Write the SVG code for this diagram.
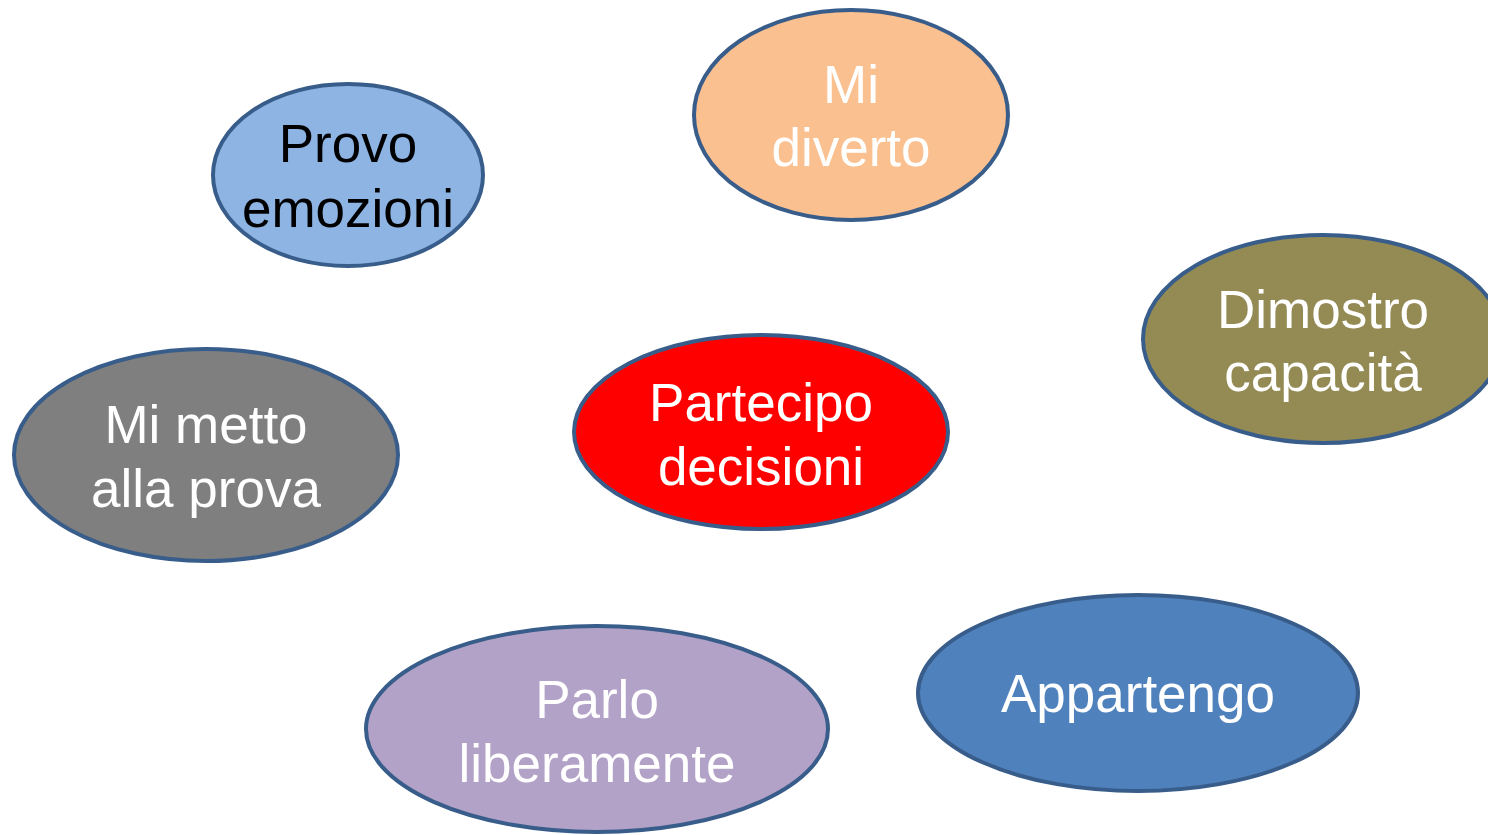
<svg xmlns="http://www.w3.org/2000/svg" width="1488" height="835" viewBox="0 0 1488 835">
<style>
.n{stroke:#385D8A;stroke-width:4}
.t{font-family:"Liberation Sans",Arial,sans-serif;font-size:53px;text-anchor:middle;fill:#FFFFFF}
.k{fill:#000000}
</style>
<rect width="1488" height="835" fill="#FFFFFF"/>
<g id="connectors"></g>
<g id="provo">
<ellipse class="n" cx="348" cy="175" rx="135" ry="91" fill="#8EB4E3"/>
<text class="t k" x="348" y="162">Provo</text>
<text class="t k" x="348" y="227">emozioni</text>
</g>
<g id="diverto">
<ellipse class="n" cx="851" cy="115" rx="157" ry="105" fill="#FAC090"/>
<text class="t" x="851" y="103">Mi</text>
<text class="t" x="851" y="166">diverto</text>
</g>
<g id="dimostro">
<ellipse class="n" cx="1323" cy="339" rx="180" ry="104" fill="#948A54"/>
<text class="t" x="1323" y="328">Dimostro</text>
<text class="t" x="1323" y="391">capacità</text>
</g>
<g id="mimetto">
<ellipse class="n" cx="206" cy="455" rx="192" ry="106" fill="#7F7F7F"/>
<text class="t" x="206" y="443">Mi metto</text>
<text class="t" x="206" y="507">alla prova</text>
</g>
<g id="partecipo">
<ellipse class="n" cx="761" cy="432" rx="187" ry="97" fill="#FF0000"/>
<text class="t" x="761" y="421">Partecipo</text>
<text class="t" x="761" y="485">decisioni</text>
</g>
<g id="parlo">
<ellipse class="n" cx="597" cy="729" rx="231" ry="103" fill="#B3A2C7"/>
<text class="t" x="597" y="718">Parlo</text>
<text class="t" x="597" y="782">liberamente</text>
</g>
<g id="appartengo">
<ellipse class="n" cx="1138" cy="693" rx="220" ry="98" fill="#4F81BD"/>
<text class="t" x="1138" y="712">Appartengo</text>
</g>
</svg>
